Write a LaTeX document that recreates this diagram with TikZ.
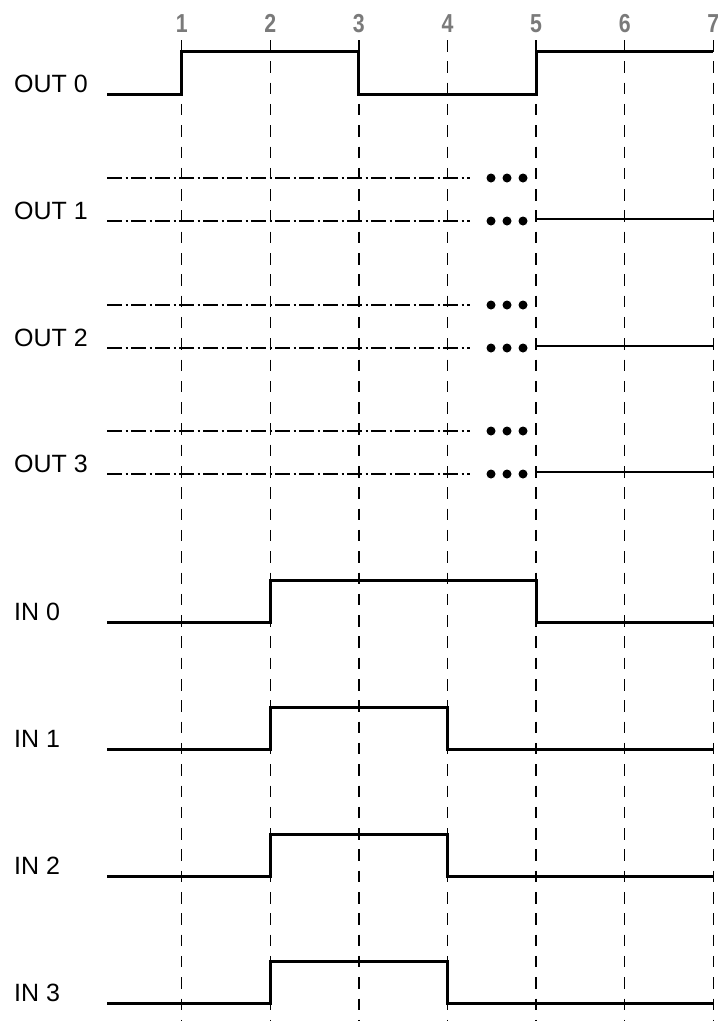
\documentclass[tikz,border=0pt]{standalone}
\usepackage{fontspec}
\setmainfont{Liberation Sans}
\newfontfamily\ticknumfont[FakeStretch=0.82]{Liberation Sans Bold}
\usepackage{tikz}
\usetikzlibrary{positioning,calc}
\definecolor{tickgray}{HTML}{7A7A7A}
\tikzset{
  % raster
  gridln/.style={draw=black,line width=1.3pt,dash pattern=on 11.5pt off 9.8pt},
  ticknum/.style={font=\ticknumfont\fontsize{26}{30}\selectfont,text=tickgray,inner sep=0pt,anchor=base},
  % signaler
  sig/.style={draw=black,line width=3pt},
  sigthin/.style={draw=black,line width=2.2pt},
  unk/.style={draw=black,line width=2.4pt,dash pattern=on 15pt off 3.5pt on 2pt off 3.5pt},
  dotc/.style={circle,fill=black,inner sep=0pt,minimum size=9pt},
  lbl/.style={anchor=base west,font=\fontsize{25}{30}\selectfont,inner sep=0pt},
}

\begin{document}
\begin{tikzpicture}[x=1pt,y=-1pt]
\useasboundingbox (0,0) rectangle (718,1021);
  % tidsraster
  \node[ticknum] (t1) at (181.7,32) {1};
  \node[ticknum] (t2) at (270.3,32) {2};
  \node[ticknum] (t3) at (358.9,32) {3};
  \node[ticknum] (t4) at (447.5,32) {4};
  \node[ticknum] (t5) at (536.1,32) {5};
  \node[ticknum] (t6) at (624.7,32) {6};
  \node[ticknum] (t7) at (713.3,32) {7};
  \foreach \k in {1,...,7}{
    \draw[gridln] ($(t\k.base)+(0,8)$) -- ($(t\k.base)+(0,989)$);
  }
  % OUT 0
  \node[lbl] (out0) at (14,92) {OUT 0};
  \draw[sig] (107,94) -| (181.7,51) -| (358.9,94) -| (536.1,51) -- (713.3,51);
  % OUT 1..3
  \foreach \n/\y in {1/221,2/348,3/474}{
    \node[lbl] (out\n) at (14,\y-2) {OUT \n};
    \draw[unk] (107,\y-43) -- (470,\y-43);
    \draw[unk] (107,\y) -- (470,\y);
    \foreach \dx in {491,507,523}{
      \node[dotc] at (\dx,\y-43) {};
      \node[dotc] at (\dx,\y) {};
    }
    \draw[sigthin] (536.1,\y-2) -- (713.3,\y-2);
  }
  % IN 0
  \node[lbl] (in0) at (14,620) {IN 0};
  \draw[sig] (107,622) -| (270.3,580) -| (536.1,622) -- (713.3,622);
  % IN 1..3
  \foreach \n/\y in {1/749,2/876,3/1003}{
    \node[lbl] (in\n) at (14,\y-2) {IN \n};
    \draw[sig] (107,\y) -| (270.3,\y-42) -| (447.5,\y) -- (713.3,\y);
  }
\end{tikzpicture}
\end{document}
